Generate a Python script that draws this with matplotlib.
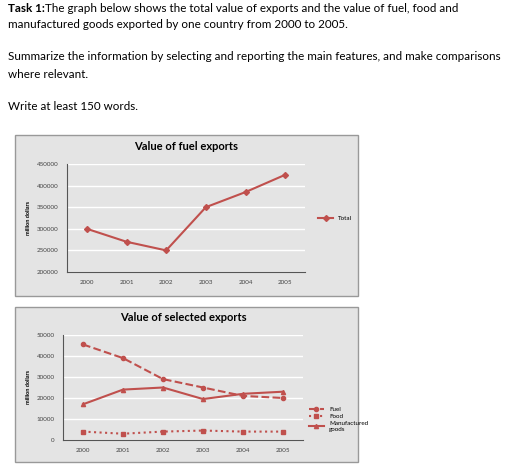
import matplotlib
matplotlib.use("Agg")
import matplotlib.pyplot as plt
from matplotlib.patches import Rectangle

years = ["2000", "2001", "2002", "2003", "2004", "2005"]
total = [300000, 270000, 250000, 350000, 385000, 425000]
fuel = [45500, 39000, 29000, 25000, 21000, 20000]
food = [4000, 3000, 4000, 4500, 4000, 4000]
manuf = [17000, 24000, 25000, 19500, 22000, 23000]

W, H = 512, 476
RED = "#c0504d"
BG = "#e4e4e4"
fig = plt.figure(figsize=(W/100, H/100), dpi=100)
plt.rcParams['font.family'] = ['Lato', 'DejaVu Sans']

def px(x0, y0, x1, y1):
    return [x0/W, 1-y1/H, (x1-x0)/W, (y1-y0)/H]

fs = 8.4
fig.text(8/W, 1-8/H, "Task 1:", fontsize=fs, fontweight='bold', va='center', ha='left')
fig.text(45/W, 1-8/H, "The graph below shows the total value of exports and the value of fuel, food and",
         fontsize=fs, va='center', ha='left')
fig.text(8/W, 1-24/H, "manufactured goods exported by one country from 2000 to 2005.", fontsize=fs, va='center')
fig.text(8/W, 1-57/H, "Summarize the information by selecting and reporting the main features, and make comparisons",
         fontsize=fs, va='center')
fig.text(8/W, 1-75/H, "where relevant.", fontsize=fs, va='center')
fig.text(8/W, 1-106/H, "Write at least 150 words.", fontsize=fs, va='center')

for (y0, y1) in [(135, 296), (307, 462)]:
    r = Rectangle((15/W, 1-y1/H), (358-15)/W, (y1-y0)/H, transform=fig.transFigure,
                  facecolor=BG, edgecolor="#999999", lw=1, zorder=-10)
    fig.patches.append(r)

x = list(range(len(years)))

def style(ax, ylim, step):
    ax.set_facecolor(BG)
    ax.set_xlim(-0.5, 5.5)
    ax.set_ylim(*ylim)
    ax.set_yticks(range(ylim[0], ylim[1]+1, step))
    ax.yaxis.grid(True, color='white', lw=1)
    ax.set_axisbelow(True)
    for s in ['top', 'right']:
        ax.spines[s].set_visible(False)
    ax.spines['left'].set_color('#555555')
    ax.spines['bottom'].set_color('#555555')
    ax.set_xticks(x)
    ax.set_xticklabels(years)
    ax.tick_params(labelsize=4.5, length=0, colors='#444444', pad=6)
    ax.set_ylabel("million dollars", fontsize=4, fontweight='bold', labelpad=4)

ax1 = fig.add_axes(px(67, 164, 305, 272))
style(ax1, (200000, 450000), 50000)
ax1.plot(x, total, color=RED, marker='D', ms=3, lw=1.5, label='Total')
ax1.legend(loc='center left', bbox_to_anchor=(1.03, 0.5), frameon=False, fontsize=4.5, handlelength=2.5)
ax1.set_title("Value of fuel exports", fontsize=8, fontweight='bold', pad=10)

ax2 = fig.add_axes(px(63, 335, 303, 440))
style(ax2, (0, 50000), 10000)
ax2.plot(x, fuel, color=RED, ls='--', marker='o', ms=3, lw=1.5, label='Fuel')
ax2.plot(x, food, color=RED, ls=':', marker='s', ms=3, lw=1.5, label='Food')
ax2.plot(x, manuf, color=RED, ls='-', marker='^', ms=3, lw=1.5, label='Manufactured\ngoods')
ax2.set_title("Value of selected exports", fontsize=8, fontweight='bold', pad=10)
ax2.legend(loc='center left', bbox_to_anchor=(1.0, 0.2), frameon=False, fontsize=4.5,
           handlelength=2.5, labelspacing=0.3)

fig.savefig("out.png", dpi=100)
